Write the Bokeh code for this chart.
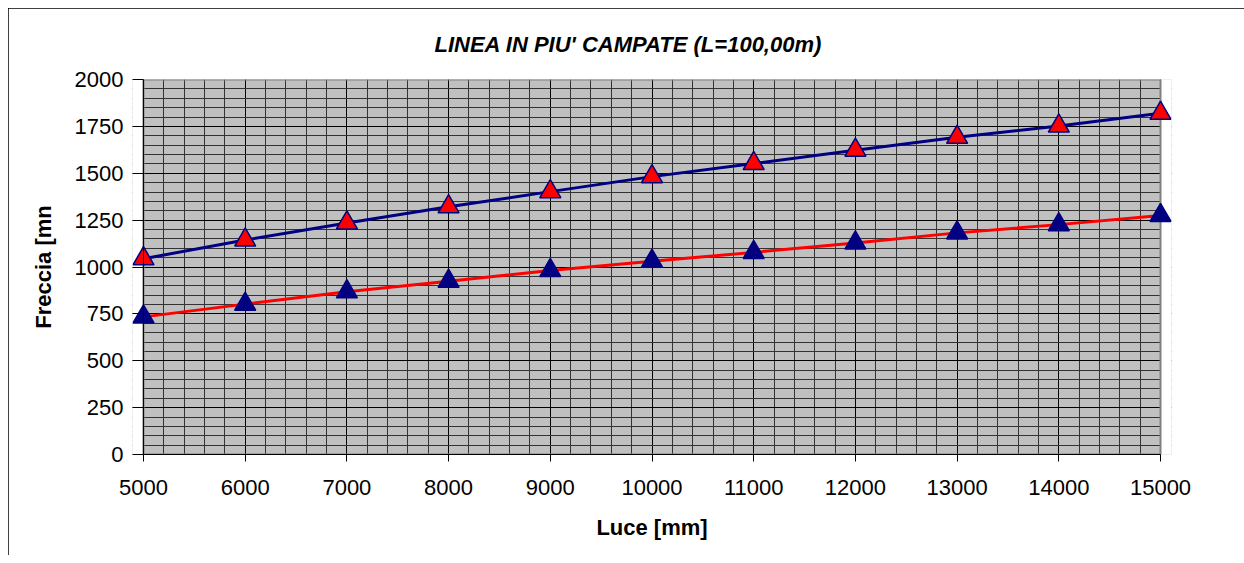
from bokeh.plotting import figure
from bokeh.models import FixedTicker, Span
from bokeh.embed import file_html
from bokeh.resources import INLINE

# Data
luce = [5000, 6000, 7000, 8000, 9000, 10000, 11000, 12000, 13000, 14000, 15000]
freccia_alta = [1044, 1144, 1235, 1321, 1402, 1482, 1552, 1623, 1692, 1752, 1820]
freccia_bassa = [734, 802, 868, 924, 981, 1031, 1078, 1128, 1182, 1226, 1275]

x_ticks = [5000, 6000, 7000, 8000, 9000, 10000, 11000, 12000, 13000, 14000, 15000]
x_minor = list(range(5000, 15001, 200))
y_ticks = [0, 250, 500, 750, 1000, 1250, 1500, 1750, 2000]
y_minor = list(range(0, 2001, 50))
titolo = "LINEA IN PIU' CAMPATE (L=100,00m)"

FONT = "Liberation Sans"
X0, X1 = 5000, 15000
Y0, Y1 = 0, 2000
PAD = 108  # room so that the end markers are not cut off

p = figure(width=1236, height=547, output_backend="svg", toolbar_location=None,
           x_range=(X0 - PAD, X1 + PAD), y_range=(Y0, Y1),
           min_border_left=124, min_border_right=73, min_border_top=71, min_border_bottom=101)
p.margin = (8, 0, 0, 8)
p.styles = {"outline": "1px solid black", "outline-offset": "-1px"}

p.background_fill_color = "#C0C0C0"
p.border_fill_color = "white"
p.outline_line_color = None

# Title
p.title.text = titolo
p.title.align = "left"
p.title.offset = 302
p.title.vertical_align = "top"
p.title.text_font = FONT
p.title.text_font_size = "22px"
p.title.text_font_style = "bold italic"
p.title.text_color = "black"
p.title.standoff = 42

xa = p.below[0]
ya = p.left[0]

# Axes
for ax, ticks, minor in ((xa, x_ticks, x_minor), (ya, y_ticks, y_minor)):
    ax.ticker = FixedTicker(ticks=ticks, minor_ticks=minor)
    ax.axis_line_color = "black"
    ax.major_tick_line_color = "black"
    ax.minor_tick_line_color = None
    ax.major_label_text_font = FONT
    ax.major_label_text_font_size = "22px"
    ax.major_label_text_color = "black"
    ax.axis_label_text_font = FONT
    ax.axis_label_text_font_size = "22px"
    ax.axis_label_text_font_style = "bold"
    ax.axis_label_text_color = "black"

xa.bounds = (X0, X1)
xa.major_tick_in = 0
xa.major_tick_out = 7
xa.major_label_standoff = 18
xa.axis_label = "Luce [mm]"
xa.axis_label_standoff = 17

# y axis sits at the frame edge; its ticks reach in to the 5000 line
ya.axis_line_color = None
ya.major_tick_in = 11
ya.major_tick_out = 0
ya.major_label_standoff = 5
ya.axis_label = "Freccia [mn"
ya.axis_label_standoff = 16
p.add_layout(Span(location=X0, dimension="height", line_color="black", line_width=1))

# Grids
for g in (p.xgrid[0], p.ygrid[0]):
    g.level = "image"
    g.grid_line_color = "black"
    g.grid_line_width = 1
    g.minor_grid_line_color = "#333333"
    g.minor_grid_line_width = 1
p.xgrid[0].ticker = FixedTicker(ticks=x_ticks, minor_ticks=x_minor)
p.ygrid[0].ticker = FixedTicker(ticks=y_ticks, minor_ticks=y_minor)

# white strips outside the plot area (cover grid overflow), then plot-area outline
p.quad(left=[X0 - 3 * PAD, X1], right=[X0, X1 + 3 * PAD], bottom=[Y0 - 100, Y0 - 100],
       top=[Y1 + 100, Y1 + 100], fill_color="white", line_color=None, level="underlay")
p.quad(left=[X0], right=[X1], bottom=[Y0], top=[Y1], fill_color=None,
       line_color="#808080", line_width=2, level="underlay")

# Series
p.line(luce, freccia_alta, line_color="#000080", line_width=3)
p.line(luce, freccia_bassa, line_color="#FF0000", line_width=3)
p.scatter(luce, freccia_alta, marker="triangle", size=21, fill_color="#FF0000",
          line_color="#000080", line_width=1.5)
p.scatter(luce, freccia_bassa, marker="triangle", size=21, fill_color="#000080",
          line_color="#000080", line_width=1.5)

open("out.html", "w").write(file_html(p, INLINE))
